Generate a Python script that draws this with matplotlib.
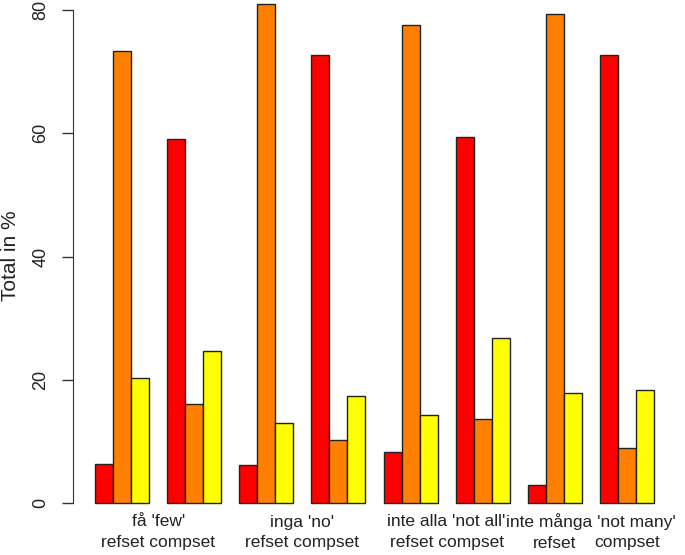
import matplotlib
matplotlib.use("Agg")
import matplotlib.pyplot as plt
from matplotlib.transforms import blended_transform_factory

plt.rcParams['font.family'] = ['Liberation Sans', 'DejaVu Sans']

groups = ["få 'few' refset", "få 'few' compset", "inga 'no' refset", "inga 'no' compset",
          "inte alla refset", "inte alla compset", "inte många refset", "inte många compset"]
red_vals = [6.3, 59.0, 6.1, 72.7, 8.3, 59.4, 2.9, 72.7]
orange_vals = [73.4, 16.0, 81.0, 10.2, 77.6, 13.7, 79.3, 9.0]
yellow_vals = [20.3, 24.7, 12.9, 17.3, 14.2, 26.8, 17.8, 18.3]
series = [red_vals, orange_vals, yellow_vals]
colors = ["#FF0000", "#FF8000", "#FFFF00"]
top_labels = ["få 'few'", "inga 'no'", "inte alla 'not all'", "inte många 'not many'"]
yticks = [0, 20, 40, 60, 80]

W, H = 685, 555
fig = plt.figure(figsize=(W / 100, H / 100), dpi=100)
ax = fig.add_axes([73 / W, (H - 522.7) / H, 603 / W, 532.4 / H])
ax.set_xlim(-0.24, 33.24)
ax.set_ylim(-3.2, 83.2)

for g in range(len(groups)):
    for j, vals in enumerate(series):
        ax.bar(1 + 4 * g + j, vals[g], width=1, align='edge', color=colors[j],
               edgecolor='#222222', linewidth=1.0, clip_on=False)

for s in ['top', 'right', 'bottom']:
    ax.spines[s].set_visible(False)
ax.spines['left'].set_bounds(0, 80)
ax.spines['left'].set_color('#333333')
ax.set_xticks([])
ax.set_yticks(yticks)
ax.set_yticklabels([str(t) for t in yticks], rotation=90, va='center', fontsize=13, color='#222222')
ax.tick_params(axis='y', length=8, width=1, pad=9, color='#333333')

fig.text(11 / W, 1 - 256 / H, "Total in %", rotation=90, ha='center', va='center',
         fontsize=15, color='#222222')

trans = blended_transform_factory(ax.transData, fig.transFigure)
for k, lab in enumerate(top_labels):
    xc = 1 + 8 * k + 3.5
    ax.text(xc, 1 - 522 / H, lab, transform=trans, ha='center', va='center',
            fontsize=12.5, color='#222222')
    if k < 3:
        ax.text(xc, 1 - 543 / H, "refset compset", transform=trans, ha='center', va='center',
                fontsize=12.5, color='#222222')
    else:
        ax.text(xc - 2.0, 1 - 543 / H, "refset", transform=trans, ha='center', va='center',
                fontsize=12.5, color='#222222')
        ax.text(xc + 2.0, 1 - 543 / H, "compset", transform=trans, ha='center', va='center',
                fontsize=12.5, color='#222222')

fig.savefig("out.png", dpi=100)
